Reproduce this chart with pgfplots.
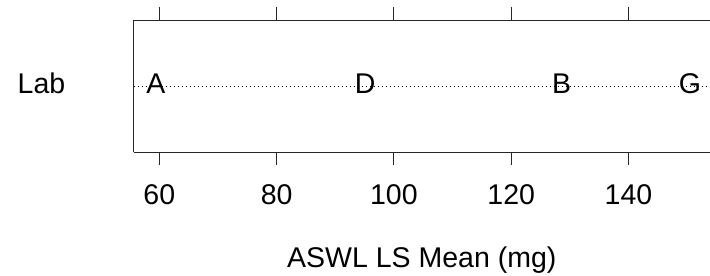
\documentclass[border=0pt]{standalone}
\usepackage{fontspec}
\setmainfont{Liberation Sans}
\usepackage{pgfplots}
\pgfplotsset{compat=1.18}
\begin{document}
\fontsize{28.5bp}{32bp}\selectfont
\begin{tikzpicture}
\begin{axis}[
  at={(133.5bp,124bp)}, anchor=south west,
  scale only axis, width=576.5bp, height=132bp,
  xmin=55.6, xmax=153.9, ymin=0, ymax=2,
  axis x line*=box, axis y line*=left,
  axis line style={line width=0.9bp, black!85},
  xtick={60,80,100,120,140},
  tick align=outside, major tick length=13bp,
  tick style={line width=0.9bp, black!85},
  ytick={1}, yticklabels={Lab},
  y tick style={draw=none},
  yticklabel style={anchor=base, xshift=-79bp, yshift=-7.3bp},
  xticklabel style={anchor=base, yshift=-39.3bp},
  /pgf/number format/assume math mode=true,
  xlabel={ASWL LS Mean (mg)},
  xlabel style={at={(axis description cs:0.5,-0.8765)}, anchor=base},
  clip=false,
]
\addplot[black, line width=0.7bp, dash pattern=on 1bp off 3bp] coordinates {(55.6,1) (153.9,1)};
\addplot[only marks, mark=none, nodes near coords, point meta=explicit symbolic,
  nodes near coords align={center}, every node near coord/.append style={anchor=base, inner sep=0pt, yshift=-7.3bp}]
  table[meta=lab] {
x y lab
59.4 1 A
95.1 1 D
128.6 1 B
150.5 1 G
};
\end{axis}
\pgfresetboundingbox
\useasboundingbox (0,0) rectangle (710bp,276bp);
\end{tikzpicture}
\end{document}
